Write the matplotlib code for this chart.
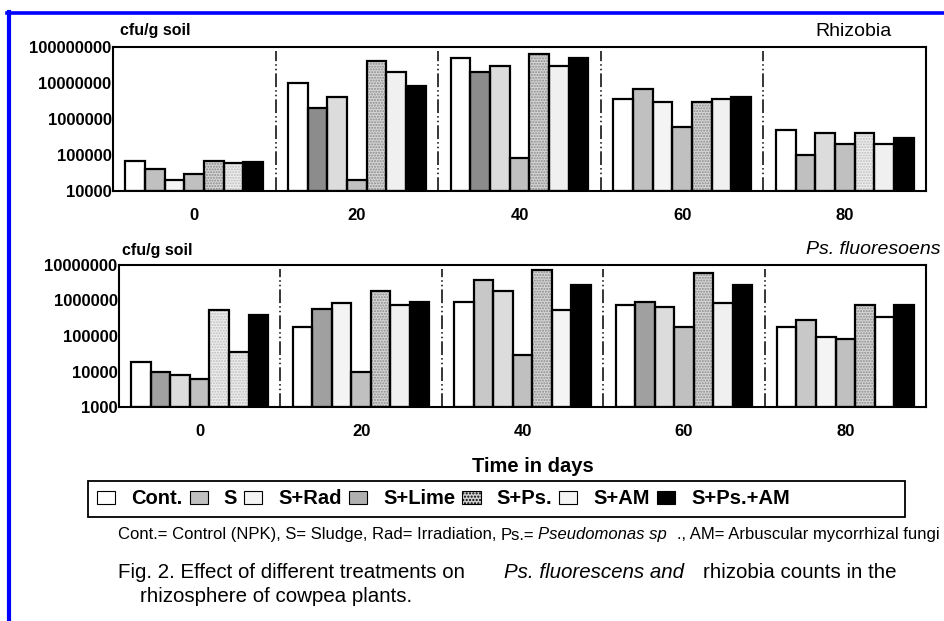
import matplotlib
matplotlib.use("Agg")
import matplotlib.pyplot as plt
import numpy as np
from matplotlib.patches import Patch, Rectangle
from matplotlib.lines import Line2D

# ---------- Data ----------
days = ["0", "20", "40", "60", "80"]
treatments = ["Cont.", "S", "S+Rad", "S+Lime", "S+Ps.", "S+AM", "S+Ps.+AM"]

# Rhizobia (cfu/g soil), one list per treatment over days
rhiz_cont = [7e4, 1e7, 5e7, 3.6e6, 5e5]
rhiz_s = [4e4, 2e6, 2e7, 7e6, 1e5]
rhiz_rad = [2e4, 4e6, 3e7, 3e6, 4e5]
rhiz_lime = [3e4, 2e4, 8.5e4, 6e5, 2e5]
rhiz_ps = [7e4, 4e7, 6.5e7, 3e6, 4e5]
rhiz_am = [6e4, 2e7, 3e7, 3.6e6, 2e5]
rhiz_psam = [6.3e4, 8e6, 5e7, 4e6, 3e5]

# Ps. fluorescens (cfu/g soil)
psf_cont = [1.9e4, 1.8e5, 9.3e5, 7.5e5, 1.8e5]
psf_s = [1e4, 5.6e5, 3.8e6, 9.3e5, 2.8e5]
psf_rad = [8e3, 8.3e5, 1.8e6, 6.7e5, 9.5e4]
psf_lime = [6e3, 1e4, 2.9e4, 1.8e5, 8.5e4]
psf_ps = [5.5e5, 1.8e6, 7.3e6, 5.9e6, 7.5e5]
psf_am = [3.6e4, 7.4e5, 5.4e5, 8.3e5, 3.5e5]
psf_psam = [3.8e5, 9.3e5, 2.7e6, 2.7e6, 7.5e5]

rhiz = [rhiz_cont, rhiz_s, rhiz_rad, rhiz_lime, rhiz_ps, rhiz_am, rhiz_psam]
psf = [psf_cont, psf_s, psf_rad, psf_lime, psf_ps, psf_am, psf_psam]

# ---------- Styles (fill per treatment, per day group) ----------
# "P" = stippled grey, "p" = light stipple
top_fill = [
    ["white", "#c0c0c0", "#f4f4f4", "#c0c0c0", "P", "p", "black"],
    ["white", "#8c8c8c", "#dcdcdc", "#c0c0c0", "P", "#f0f0f0", "black"],
    ["white", "#8c8c8c", "#dcdcdc", "#c0c0c0", "P", "#f0f0f0", "black"],
    ["white", "#c0c0c0", "#f4f4f4", "#c0c0c0", "P", "#f0f0f0", "black"],
    ["white", "#c0c0c0", "#dcdcdc", "#c0c0c0", "p", "#f0f0f0", "black"],
]
bot_fill = [
    ["white", "#a0a0a0", "#dcdcdc", "#c0c0c0", "p", "p", "black"],
    ["white", "#a0a0a0", "#f4f4f4", "#c0c0c0", "P", "#f0f0f0", "black"],
    ["white", "#c8c8c8", "#dcdcdc", "#c0c0c0", "P", "#f4f4f4", "black"],
    ["white", "#a0a0a0", "#dcdcdc", "#c0c0c0", "P", "#f0f0f0", "black"],
    ["white", "#c8c8c8", "#f4f4f4", "#c0c0c0", "P", "white", "black"],
]

W, H = 944, 621
plt.rcParams["font.family"] = ["Liberation Sans", "DejaVu Sans"]
fig = plt.figure(figsize=(W / 100, H / 100), dpi=100)


def fx(x):
    return x / W


def fy(y):
    return 1 - y / H


def draw_panel(ax, series, fills, ymin, ymax, yticks):
    n = len(series)
    bw = 0.121
    x = np.arange(len(days))
    for i, vals in enumerate(series):
        xs = x + (i - (n - 1) / 2) * bw
        for g, (xx, v) in enumerate(zip(xs, vals)):
            f = fills[g][i]
            if f in ("P", "p"):
                face = "#d6d6d6" if f == "P" else "#eeeeee"
                hc = "#8a8a8a" if f == "P" else "#bdbdbd"
                ax.bar(xx, v - ymin, bottom=ymin, width=bw, color=face,
                       edgecolor=hc, linewidth=0, hatch="......", zorder=2)
            else:
                ax.bar(xx, v - ymin, bottom=ymin, width=bw, color=f,
                       linewidth=0, zorder=2)
            ax.bar(xx, v - ymin, bottom=ymin, width=bw, fill=False,
                   edgecolor="black", linewidth=1.6, zorder=3)
    for b in np.arange(0.5, len(days) - 0.5):
        ax.axvline(b, ymin=0, ymax=0.97, color="black", linewidth=1.1,
                   linestyle=(0, (9, 2, 1, 2, 1, 2)), zorder=1)
    ax.set_yscale("log")
    ax.set_ylim(ymin, ymax)
    ax.set_xlim(-0.5, len(days) - 0.5)
    ax.set_yticks(yticks)
    ax.set_yticklabels([f"{int(t)}" for t in yticks])
    ax.minorticks_off()
    ax.set_xticks(x)
    ax.set_xticklabels(days)
    ax.tick_params(axis="y", length=0, pad=1, labelsize=12)
    ax.tick_params(axis="x", length=0, pad=12, labelsize=12)
    for lab in ax.get_xticklabels() + ax.get_yticklabels():
        lab.set_fontweight("bold")
    for sp in ax.spines.values():
        sp.set_linewidth(1.5)
        sp.set_color("black")


# ---------- Top panel: Rhizobia ----------
ax1 = fig.add_axes([fx(113), fy(191), (926 - 113) / W, (191 - 47) / H])
draw_panel(ax1, rhiz, top_fill, 1e4, 1e8, [1e4, 1e5, 1e6, 1e7, 1e8])
fig.text(fx(120), fy(31), "cfu/g soil", fontsize=11.5, fontweight="bold",
         va="center", ha="left")
fig.text(fx(892), fy(31), "Rhizobia", fontsize=14, va="center", ha="right")

# ---------- Bottom panel: Ps. fluorescens ----------
ax2 = fig.add_axes([fx(119), fy(407), (926 - 119) / W, (407 - 265) / H])
draw_panel(ax2, psf, bot_fill, 1e3, 1e7, [1e3, 1e4, 1e5, 1e6, 1e7])
fig.text(fx(122), fy(250), "cfu/g soil", fontsize=11.5, fontweight="bold",
         va="center", ha="left")
fig.text(fx(940), fy(250), "Ps. fluoresoens", fontsize=14, style="italic",
         va="center", ha="right")

# ---------- Axis title and legend ----------
fig.text(fx(533), fy(467), "Time in days", fontsize=14.5, fontweight="bold",
         ha="center", va="center")

fig.add_artist(Rectangle((fx(88), fy(517)), (905 - 88) / W, (517 - 481) / H,
                         transform=fig.transFigure, fill=False,
                         edgecolor="black", linewidth=1.3))
leg_faces = ["white", "#c0c0c0", "#f4f4f4", "#b0b0b0", "#d0d0d0", "#f4f4f4",
             "black"]
handles = [Patch(facecolor=c, edgecolor="black", linewidth=0.8,
                 hatch="....." if t == "S+Ps." else None)
           for c, t in zip(leg_faces, treatments)]
fig.legend(handles, treatments, loc="center left",
           bbox_to_anchor=(fx(97), fy(499)), ncol=7, frameon=False,
           handlelength=0.9, handleheight=0.6, handletextpad=0.8,
           columnspacing=0.35, borderpad=0, borderaxespad=0,
           prop={"size": 14.5, "weight": "bold"})

# ---------- Footnote and caption ----------
fig.canvas.draw()
renderer = fig.canvas.get_renderer()


def text_run(x0, y, parts, size):
    # lay out text pieces one after another so they do not overlap
    x = x0
    for s, style, gap in parts:
        t = fig.text(fx(x), fy(y), s, fontsize=size, style=style, va="center")
        x = t.get_window_extent(renderer).x1 + gap


text_run(118, 535, [
    ("Cont.= Control (NPK), S= Sludge, Rad= Irradiation,", "normal", 4),
    ("Ps.=", "normal", 4),
    ("Pseudomonas sp", "italic", 10),
    ("., AM= Arbuscular mycorrhizal fungi", "normal", 0),
], 12)

fig.text(fx(118), fy(573), "Fig. 2. Effect of different treatments on",
         fontsize=14.8, va="center")
fig.text(fx(504), fy(573), "Ps. fluorescens and", fontsize=14.8,
         style="italic", va="center")
fig.text(fx(703), fy(573), "rhizobia counts in the", fontsize=14.8,
         va="center")
fig.text(fx(140), fy(596), "rhizosphere of cowpea plants.", fontsize=14.8,
         va="center")

# ---------- Blue frame ----------
fig.add_artist(Line2D([fx(7), 1.0], [fy(13), fy(13)], color="#0000ff",
                      linewidth=2.6, transform=fig.transFigure))
fig.add_artist(Line2D([fx(9), fx(9)], [fy(12), 0.0], color="#0000ff",
                      linewidth=3.0, transform=fig.transFigure))

fig.savefig("out.png", dpi=100)
